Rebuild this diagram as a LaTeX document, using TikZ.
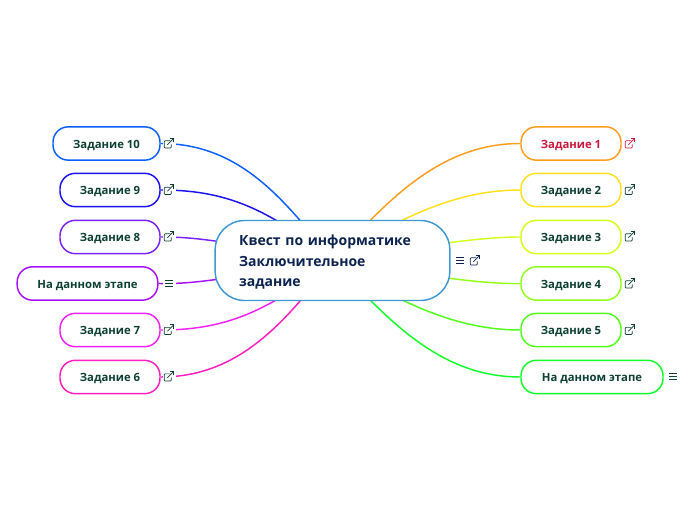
\documentclass[tikz,border=0pt]{standalone}
\usepackage{fontspec}
\setmainfont{Open Sans}
\usetikzlibrary{backgrounds}
\definecolor{taskink}{HTML}{0E4034}
\definecolor{mainink}{HTML}{0C2350}
\definecolor{mainedge}{HTML}{3F97D3}
\definecolor{firstink}{HTML}{C8193C}
\definecolor{cten}{HTML}{0B5FFF}
\definecolor{cnine}{HTML}{1A12F0}
\definecolor{ceight}{HTML}{7A22F5}
\definecolor{cnowl}{HTML}{A612FF}
\definecolor{cseven}{HTML}{EE22F5}
\definecolor{csix}{HTML}{FF1FC0}
\definecolor{cone}{HTML}{FF9D1E}
\definecolor{ctwo}{HTML}{FFE01A}
\definecolor{cthree}{HTML}{D4FF1A}
\definecolor{cfour}{HTML}{92FF1A}
\definecolor{cfive}{HTML}{52FF1A}
\definecolor{cnowr}{HTML}{12FF2A}
\tikzset{
mainbox/.style={draw=mainedge,fill=white,line width=1.1pt,rounded corners=22pt,minimum width=176pt,minimum height=60pt,inner xsep=18pt,inner ysep=0pt,text width=140pt,align=left,text=mainink,font=\bfseries\fontsize{10.5}{15.4}\selectfont},
taskbox/.style={draw=#1,fill=white,line width=1.1pt,rounded corners=11.5pt,minimum width=75pt,minimum height=25pt,inner sep=0pt,align=center,text height=6.8pt,text depth=0pt,text=taskink,font=\bfseries\fontsize{8.5}{11}\selectfont},
branch/.style={draw=#1,line width=1.1pt},
iconpatch/.style={fill=white,draw=none,minimum width=9.75pt,minimum height=10pt,inner sep=0pt},
linkicon/.pic={\draw[line width=.55pt,rounded corners=.6pt,pic actions](1pt,1.6pt)--(-3.6pt,1.6pt)--(-3.6pt,-3.7pt)--(1.7pt,-3.7pt)--(1.7pt,-1pt);\draw[line width=.55pt,pic actions](-1.2pt,-1.3pt)--(3.6pt,3.6pt);\draw[line width=.55pt,pic actions](.6pt,3.6pt)--(3.6pt,3.6pt)--(3.6pt,.6pt);},
menuicon/.pic={\draw[line width=.55pt,pic actions](-3pt,-2.3pt)--(3pt,-2.3pt)(-3pt,0pt)--(3pt,0pt)(-3pt,2.3pt)--(3pt,2.3pt);}
}
\begin{document}
\begin{tikzpicture}[x=.75pt,y=-.75pt]
\useasboundingbox (0,0) rectangle (696,520);
\node[mainbox](main) at (332.5,260.5){\rule{0pt}{11pt}Квест по информатике\\Заключительное\\задание};
\node[taskbox=cten,minimum width=80.25pt](t10) at (106.5,143.5){Задание 10};
\node[taskbox=cnine](t9) at (110,190){Задание 9};
\node[taskbox=ceight](t8) at (110,237){Задание 8};
\node[taskbox=cnowl,minimum width=105.5pt](nowl) at (87.5,283.5){На данном этапе};
\node[taskbox=cseven](t7) at (110,330){Задание 7};
\node[taskbox=csix](t6) at (110,377){Задание 6};
\node[taskbox=cone,text=firstink](t1) at (571,143.5){Задание 1};
\node[taskbox=ctwo](t2) at (571,190){Задание 2};
\node[taskbox=cthree](t3) at (571,237){Задание 3};
\node[taskbox=cfour](t4) at (571,283.5){Задание 4};
\node[taskbox=cfive](t5) at (571,330){Задание 5};
\node[taskbox=cnowr,minimum width=106.5pt](nowr) at (592,377){На данном этапе};
\begin{scope}[on background layer]
\draw[branch=cten](t10.east) .. controls (240,143.5) and (285,200) .. (main.center);
\draw[branch=cnine](t9.east) .. controls (225,190) and (268,208) .. (main.center);
\draw[branch=ceight](t8.east) .. controls (195,237) and (215,240) .. (main.center);
\draw[branch=cnowl](nowl.east) .. controls (190,284) and (215,281) .. (main.center);
\draw[branch=cseven](t7.east) .. controls (225,330) and (268,312) .. (main.center);
\draw[branch=csix](t6.east) .. controls (240,377) and (287,320) .. (main.center);
\draw[branch=cone](t1.west) .. controls (440,143.5) and (388,200) .. (main.center);
\draw[branch=ctwo](t2.west) .. controls (465,190) and (410,210) .. (main.center);
\draw[branch=cthree](t3.west) .. controls (490,237) and (450,241) .. (main.center);
\draw[branch=cfour](t4.west) .. controls (490,284) and (450,280) .. (main.center);
\draw[branch=cfive](t5.west) .. controls (465,330) and (410,310) .. (main.center);
\draw[branch=cnowr](nowr.west) .. controls (440,377) and (388,320) .. (main.center);
\end{scope}
\node[iconpatch](p10) at (169.5,143){};
\node[iconpatch](p9) at (169.5,190){};
\node[iconpatch](p8) at (169.5,237){};
\node[iconpatch](pnow) at (169.5,284){};
\node[iconpatch](p7) at (169.5,330){};
\node[iconpatch](p6) at (169.5,377){};
\pic[taskink] at (169,143){linkicon};
\pic[taskink] at (169,189.5){linkicon};
\pic[taskink] at (169,236){linkicon};
\pic[taskink] at (169,283.5){menuicon};
\pic[taskink] at (169,329.5){linkicon};
\pic[taskink] at (169,376){linkicon};
\pic[firstink] at (630,143){linkicon};
\pic[taskink] at (630,189.5){linkicon};
\pic[taskink] at (630,236){linkicon};
\pic[taskink] at (630,283){linkicon};
\pic[taskink] at (630,329.5){linkicon};
\pic[taskink] at (673,376){menuicon};
\pic[mainink] at (460,260){menuicon};
\pic[mainink] at (475,260){linkicon};
\end{tikzpicture}
\end{document}
